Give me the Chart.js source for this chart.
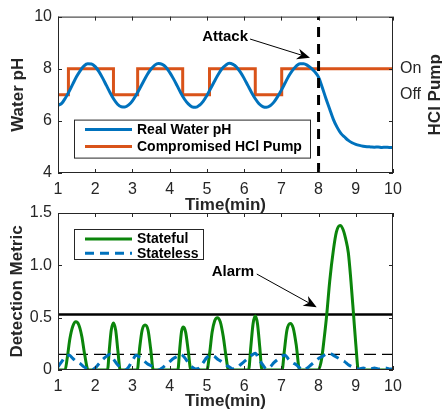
<!DOCTYPE html>
<html><head><meta charset="utf-8">
<script src="https://cdn.jsdelivr.net/npm/chart.js@4"></script>
<style>
html,body{margin:0;padding:0;background:#fff;width:442px;height:418px;overflow:hidden;position:relative}
#c1{position:absolute;left:0;top:0}
#c2{position:absolute;left:0;top:196px}
</style></head><body>
<canvas id="c1" width="442" height="216"></canvas>
<canvas id="c2" width="442" height="222"></canvas>
<script>
// ---------------- data ----------------
const sampleTime = [1.0,1.1,1.2,1.3,1.4,1.5,1.6,1.7,1.8,1.9,
  2.0,2.1,2.2,2.3,2.4,2.5,2.6,2.7,2.8,2.9,
  3.0,3.1,3.2,3.3,3.4,3.5,3.6,3.7,3.8,3.9,
  4.0,4.1,4.2,4.3,4.4,4.5,4.6,4.7,4.8,4.9,
  5.0,5.1,5.2,5.3,5.4,5.5,5.6,5.7,5.8,5.9,
  6.0,6.1,6.2,6.3,6.4,6.5,6.6,6.7,6.8,6.9,
  7.0,7.1,7.2,7.3,7.4,7.5,7.6,7.7,7.8,7.9,
  8.0,8.1,8.2,8.3,8.4,8.5,8.6,8.7,8.8,8.9,
  9.0,9.1,9.2,9.3,9.4,9.5,9.6,9.7,9.8,9.9,10.0];
const waterPH = [6.60,6.67,6.88,7.13,7.42,7.70,7.93,8.11,8.19,8.18,
  8.08,7.89,7.64,7.36,7.08,6.83,6.64,6.54,6.53,6.61,
  6.77,6.99,7.25,7.52,7.78,7.99,8.14,8.20,8.17,8.06,
  7.86,7.62,7.35,7.07,6.83,6.65,6.54,6.52,6.60,6.75,
  6.97,7.24,7.51,7.77,7.99,8.13,8.21,8.17,8.06,7.87,
  7.63,7.36,7.09,6.85,6.66,6.55,6.52,6.58,6.72,6.93,
  7.18,7.45,7.72,7.94,8.10,8.19,8.19,8.13,8.02,7.88,
  7.68,7.28,6.85,6.45,6.05,5.75,5.52,5.38,5.25,5.16,
  5.10,5.06,5.03,5.01,5.00,4.99,5.00,4.98,4.99,4.98,4.98];
const pumpTime  = [1, 1.28, 2.49, 3.14, 4.35, 5.07, 6.30, 7.01, 10];
const pumpState = [7, 8, 7, 8, 7, 8, 7, 8, 8];
const pumpTickValues = [7, 8];
const pumpTickLabels = ['Off', 'On'];
const attackTime = 8;
const statelessValue = [0.03,0.08,0.13,0.14,0.11,0.08,0.06,0.03,0.01,0,
  0.02,0.06,0.10,0.13,0.15,0.10,0.05,0.02,0,0.03,
  0.09,0.14,0.12,0.09,0.06,0.04,0.02,0,0.02,0.05,
  0.08,0.11,0.13,0.15,0.12,0.07,0.03,0.01,0.02,0.07,
  0.12,0.14,0.13,0.10,0.08,0.05,0.03,0.01,0.02,0.05,
  0.08,0.11,0.14,0.16,0.10,0.05,0.01,0.03,0.07,0.10,
  0.13,0.14,0.10,0.07,0.05,0.02,0,0.02,0.05,0.08,
  0.11,0.13,0.15,0.16,0.14,0.12,0.10,0.08,0.05,0.03,
  0.01,0.01,0.02,0.01,0.01,0.02,0.01,0.01,0.02,0.01,0.01];
const statefulTime = [1.0,1.19,1.25,1.32,1.40,1.48,1.56,1.64,1.72,1.81,
  2.33,2.38,2.43,2.49,2.55,2.61,2.67,
  3.13,3.19,3.26,3.34,3.42,3.49,3.56,
  4.22,4.27,4.32,4.37,4.43,4.50,4.57,
  5.00,5.07,5.14,5.21,5.28,5.36,5.44,5.51,5.58,
  6.12,6.18,6.24,6.30,6.36,6.42,6.48,
  7.02,7.08,7.15,7.24,7.32,7.40,7.49,
  7.99,8.08,8.15,8.22,8.30,8.40,8.48,8.58,8.66,8.73,8.80,8.87,8.94,9.00,9.07,10.0];
const statefulValue = [0,0,0.12,0.30,0.42,0.46,0.43,0.32,0.14,0,
  0,0.20,0.38,0.45,0.38,0.18,0,
  0,0.20,0.38,0.43,0.38,0.20,0,
  0,0.20,0.37,0.41,0.36,0.18,0,
  0,0.15,0.36,0.47,0.50,0.46,0.32,0.14,0,
  0,0.22,0.44,0.515,0.44,0.22,0,
  0,0.18,0.38,0.445,0.40,0.24,0,
  0,0.10,0.30,0.53,0.85,1.15,1.32,1.38,1.34,1.25,1.12,0.85,0.53,0.25,0,0];
const alarmThreshold = 0.53;
const statelessThreshold = 0.15;
const xTicks = [1,2,3,4,5,6,7,8,9,10];

// ---------------- style ----------------
const FONT = "'Liberation Sans', Arial, Helvetica, sans-serif";
Chart.defaults.font.family = FONT;
const INK = '#262626';
const BLUE = '#0072BD', ORANGE = '#D95319', GREEN = '#0b850b';
const tickFont = {size: 16, family: FONT};
const titleFont = {size: 17, weight: 'bold', family: FONT};
const noGrid = {display: false, drawTicks: false};

function pts(xs, ys){ return xs.map((x,i)=>({x:x, y:ys[i]})); }

function drawArrow(ctx, x1, y1, x2, y2){
  const a = Math.atan2(y2-y1, x2-x1), c = Math.cos(a), s = Math.sin(a);
  const len = 13, w = 5.5, notch = 9;
  ctx.beginPath(); ctx.moveTo(x1,y1); ctx.lineTo(x2-c*notch, y2-s*notch);
  ctx.lineWidth = 1; ctx.stroke();
  ctx.beginPath(); ctx.moveTo(x2,y2);
  ctx.lineTo(x2-len*c+w*s, y2-len*s-w*c);
  ctx.lineTo(x2-notch*c, y2-notch*s);
  ctx.lineTo(x2-len*c-w*s, y2-len*s+w*c);
  ctx.closePath(); ctx.fill();
}

const decor = {
  id: 'decor',
  afterDatasetsDraw(chart){
    const {ctx, chartArea:a, scales} = chart;
    ctx.save();
    ctx.strokeStyle = INK; ctx.lineWidth = 1;
    ctx.strokeRect(a.left+0.5, a.top+0.5, a.right-a.left-1, a.bottom-a.top-1);
    const L = 4;
    ctx.beginPath();
    scales.x.ticks.forEach(t=>{
      const px = Math.round(scales.x.getPixelForValue(t.value))+0.5;
      ctx.moveTo(px,a.bottom); ctx.lineTo(px,a.bottom-L);
      ctx.moveTo(px,a.top); ctx.lineTo(px,a.top+L);
    });
    scales.y.ticks.forEach(t=>{
      const py = Math.round(scales.y.getPixelForValue(t.value))+0.5;
      ctx.moveTo(a.left,py); ctx.lineTo(a.left+L,py);
      ctx.moveTo(a.right,py); ctx.lineTo(a.right-L,py);
    });
    ctx.stroke();
    ctx.restore();
  },
  afterDraw(chart, args, opts){
    const {ctx, chartArea:a, scales} = chart;
    ctx.save();
    const an = opts.note;
    if (an){
      const X = v=>scales.x.getPixelForValue(v), Y = v=>scales.y.getPixelForValue(v);
      ctx.fillStyle = '#000'; ctx.strokeStyle = '#000';
      ctx.font = 'bold 15px ' + FONT; ctx.textAlign = 'center'; ctx.textBaseline = 'middle';
      ctx.fillText(an.text, X(an.tx), Y(an.ty));
      drawArrow(ctx, X(an.ax1), Y(an.ay1), X(an.ax2), Y(an.ay2));
    }
    const lg = opts.legend;
    if (lg){
      const bx = a.left + lg.dx, by = a.top + lg.dy;
      ctx.fillStyle = '#fff'; ctx.fillRect(bx, by, lg.w, lg.h);
      ctx.strokeStyle = INK; ctx.lineWidth = 1; ctx.setLineDash([]);
      ctx.strokeRect(bx+0.5, by+0.5, lg.w, lg.h);
      ctx.font = 'bold 14px ' + FONT; ctx.textAlign = 'left'; ctx.textBaseline = 'middle';
      lg.items.forEach((it, i)=>{
        const y = by + lg.y0 + i*lg.dyItem;
        ctx.beginPath(); ctx.strokeStyle = it.color; ctx.lineWidth = 3;
        ctx.setLineDash(it.dash || []);
        ctx.moveTo(bx+11, y); ctx.lineTo(bx+58, y); ctx.stroke();
        ctx.setLineDash([]);
        ctx.fillStyle = '#000'; ctx.fillText(it.label, bx+63, y+0.5);
      });
    }
    if (opts.rightTitle){
      ctx.translate(435, (a.top+a.bottom)/2);
      ctx.rotate(-Math.PI/2);
      ctx.font = 'bold 17px ' + FONT; ctx.fillStyle = INK;
      ctx.textAlign = 'center'; ctx.textBaseline = 'middle';
      ctx.fillText(opts.rightTitle, 0, 0);
    }
    ctx.restore();
  }
};

const xScale = (h, pad) => ({
  type: 'linear', min: 1, max: 10,
  afterBuildTicks(s){ s.ticks = xTicks.map(v=>({value:v})); },
  ticks: {font: tickFont, color: INK, padding: 7, autoSkip: false, maxRotation: 0},
  grid: noGrid, border: {display: false},
  title: {display: true, text: 'Time(min)', font: titleFont, color: INK, padding: {top: 0, bottom: pad}},
  afterFit(s){ s.height = h; }
});

// ---------------- top chart ----------------
new Chart(document.getElementById('c1'), {
  type: 'line',
  data: { datasets: [
    {data: pts([attackTime, attackTime], [4, 10]), borderColor: '#000', borderWidth: 3, borderDash: [10, 7], pointRadius: 0, order: 0},
    {data: pts(sampleTime, waterPH), borderColor: BLUE, borderWidth: 3, pointRadius: 0, cubicInterpolationMode: 'monotone', order: 1},
    {data: pts(pumpTime, pumpState), borderColor: ORANGE, borderWidth: 3, pointRadius: 0, stepped: 'before', order: 2}
  ]},
  options: {
    responsive: false, animation: false, events: [],
    layout: {padding: {top: 15, left: 0, right: 0, bottom: 0}},
    plugins: {
      legend: {display: false}, tooltip: {enabled: false},
      decor: {
        note: {text: 'Attack', tx: 5.49, ty: 9.24, ax1: 6.16, ay1: 9.14, ax2: 7.77, ay2: 8.42},
        legend: {dx: 16, dy: 103, w: 236, h: 38, y0: 10, dyItem: 17,
          items: [{label: 'Real Water pH', color: BLUE}, {label: 'Compromised HCl Pump', color: ORANGE}]},
        rightTitle: 'HCl Pump'
      }
    },
    scales: {
      x: xScale(43, 0),
      y: {
        min: 4, max: 10,
        ticks: {stepSize: 2, font: tickFont, color: INK, padding: 6},
        grid: noGrid, border: {display: false},
        title: {display: true, text: 'Water pH', font: titleFont, color: INK, padding: {top: 8, bottom: 0}},
        afterFit(s){ s.width = 58; }
      },
      y2: {
        position: 'right', min: 4, max: 10,
        afterBuildTicks(s){ s.ticks = pumpTickValues.map(v=>({value:v})); },
        ticks: {font: tickFont, color: INK, padding: 7,
          callback: v => pumpTickLabels[pumpTickValues.indexOf(v)]},
        grid: noGrid, border: {display: false},
        afterFit(s){ s.width = 49; }
      }
    }
  },
  plugins: [decor]
});

// ---------------- bottom chart ----------------
new Chart(document.getElementById('c2'), {
  type: 'line',
  data: { datasets: [
    {data: pts(sampleTime, statelessValue), borderColor: BLUE, borderWidth: 3, borderDash: [9, 6], pointRadius: 0, cubicInterpolationMode: 'monotone', order: 0},
    {data: pts(statefulTime, statefulValue), borderColor: GREEN, borderWidth: 3, pointRadius: 0, cubicInterpolationMode: 'monotone', order: 1},
    {data: pts([1, 10], [alarmThreshold, alarmThreshold]), borderColor: '#000', borderWidth: 2.5, pointRadius: 0, order: 2},
    {data: pts([1, 10], [statelessThreshold, statelessThreshold]), borderColor: '#000', borderWidth: 1.2, borderDash: [12, 6], pointRadius: 0, order: 3}
  ]},
  options: {
    responsive: false, animation: false, events: [],
    layout: {padding: {top: 17, left: 0, right: 49, bottom: 0}},
    plugins: {
      legend: {display: false}, tooltip: {enabled: false},
      decor: {
        note: {text: 'Alarm', tx: 5.70, ty: 0.936, ax1: 6.34, ay1: 0.917, ax2: 7.95, ay2: 0.60},
        legend: {dx: 16, dy: 16, w: 129, h: 30, y0: 10, dyItem: 14.3,
          items: [{label: 'Stateful', color: GREEN}, {label: 'Stateless', color: BLUE, dash: [9, 6]}]}
      }
    },
    scales: {
      x: xScale(48, 6),
      y: {
        min: 0, max: 1.5,
        afterBuildTicks(s){ s.ticks = [0, 0.5, 1, 1.5].map(v=>({value:v})); },
        ticks: {font: tickFont, color: INK, padding: 6},
        grid: noGrid, border: {display: false},
        title: {display: true, text: 'Detection Metric', font: titleFont, color: INK, padding: {top: 7, bottom: 0}},
        afterFit(s){ s.width = 58; }
      }
    }
  },
  plugins: [decor]
});
</script>
</body></html>
